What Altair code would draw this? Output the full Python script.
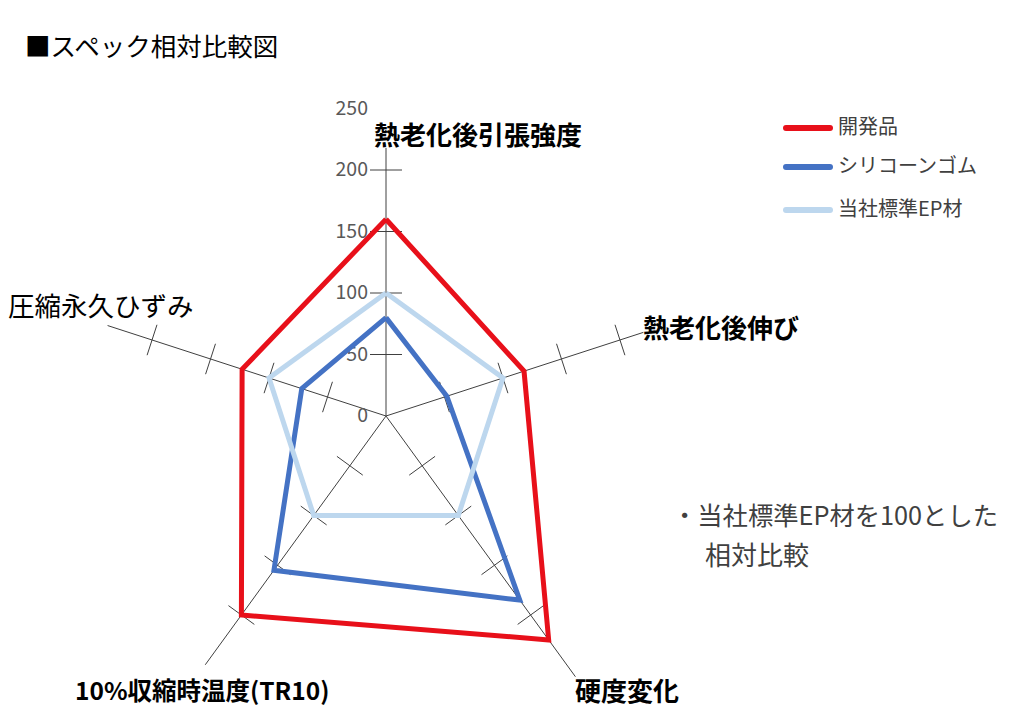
import altair as alt
import pandas as pd

# ---------------- data ----------------
categories = ["熱老化後引張強度", "熱老化後伸び", "硬度変化", "10%収縮時温度(TR10)", "圧縮永久ひずみ"]
series_names = ["開発品", "シリコーンゴム", "当社標準EP材"]
dev_values = [160, 118, 225, 200, 123]
sil_values = [80, 52, 185, 155, 72]
std_values = [100, 100, 100, 100, 100]
tick_values = [0, 50, 100, 150, 200, 250]
cross_values = [50, 100, 150, 200]
colors = ["#E8101A", "#4472C4", "#BDD7EE"]

title_text = "■スペック相対比較図"
note_line1 = "・当社標準EP材を100とした"
note_line2 = "相対比較"

# ---------------- layout constants ----------------
W, H = 998, 703
K = 1.23            # px per unit
CX, CY = 378, 408   # centre of radar in plot coordinates
XMIN, XMAX = -CX / K, (W - CX) / K
YMIN, YMAX = -(H - CY) / K, CY / K
spoke_len = [218, 220, 262, 250, 238]
HALF = 13           # half length of cross ticks (units)
FONT = "Noto Sans CJK JP"

N = len(categories)
ANG = "PI/2 - datum.idx*2*PI/%d" % N

xs = alt.Scale(domain=[XMIN, XMAX], nice=False, zero=False)
ys = alt.Scale(domain=[YMIN, YMAX], nice=False, zero=False)

# polygons (closed)
rows = []
for s, vals in zip(series_names, [dev_values, sil_values, std_values]):
    for i in range(N + 1):
        rows.append({"series": s, "idx": i, "value": vals[i % N]})
poly_df = pd.DataFrame(rows)

spoke_df = pd.DataFrame({"idx": list(range(N)), "len": spoke_len})
cross_df = pd.DataFrame([{"idx": i, "r": r} for i in range(N) for r in cross_values])
tick_df = pd.DataFrame({"v": tick_values})

spokes = alt.Chart(spoke_df).transform_calculate(
    a=ANG
).transform_calculate(
    x0="0", y0="0",
    xe="datum.len*cos(datum.a)", ye="datum.len*sin(datum.a)"
).mark_rule(color="#404040", strokeWidth=1).encode(
    x=alt.X("x0:Q", scale=xs, axis=None),
    y=alt.Y("y0:Q", scale=ys, axis=None),
    x2="xe:Q", y2="ye:Q"
)

crosses = alt.Chart(cross_df).transform_calculate(
    a=ANG
).transform_calculate(
    x1="datum.r*cos(datum.a) + %d*sin(datum.a)" % HALF,
    y1="datum.r*sin(datum.a) - %d*cos(datum.a)" % HALF,
    x2e="datum.r*cos(datum.a) - %d*sin(datum.a)" % HALF,
    y2e="datum.r*sin(datum.a) + %d*cos(datum.a)" % HALF,
).mark_rule(color="#404040", strokeWidth=1).encode(
    x=alt.X("x1:Q", scale=xs, axis=None),
    y=alt.Y("y1:Q", scale=ys, axis=None),
    x2="x2e:Q", y2="y2e:Q"
)

tick_labels = alt.Chart(tick_df).transform_calculate(
    x0="0"
).mark_text(align="right", baseline="middle", dx=-18, fontSize=19.5,
            font=FONT, color="#595959").encode(
    x=alt.X("x0:Q", scale=xs, axis=None),
    y=alt.Y("v:Q", scale=ys, axis=None),
    text="v:Q"
)

lines = alt.Chart(poly_df).transform_calculate(
    a=ANG
).transform_calculate(
    px="datum.value*cos(datum.a)", py="datum.value*sin(datum.a)"
).mark_line(strokeWidth=5, strokeJoin="miter").encode(
    x=alt.X("px:Q", scale=xs, axis=None),
    y=alt.Y("py:Q", scale=ys, axis=None),
    color=alt.Color("series:N", scale=alt.Scale(domain=series_names, range=colors), legend=None),
    order="idx:Q"
)


def label(text, x, y, size=26, weight="bold", color="#000000", align="left"):
    return alt.Chart(pd.DataFrame({"t": [text]})).mark_text(
        align=align, baseline="middle", fontSize=size, fontWeight=weight,
        font=FONT, color=color
    ).encode(x=alt.value(x), y=alt.value(y), text="t:N")


cat_pos = [(366, 129), (635, 322), (567, 685), (67, 685), (0, 300)]
cat_weight = ["bold", "bold", "bold", "bold", "normal"]
cat_size = [26, 26, 26, 24.5, 26.5]
cat_layers = [label(c, p[0], p[1], size=z, weight=w)
              for c, p, w, z in zip(categories, cat_pos, cat_weight, cat_size)]

legend_y = [120, 159, 202]
legend_layers = []
for s, c, ly in zip(series_names, colors, legend_y):
    legend_layers.append(
        alt.Chart(pd.DataFrame({"s": [s]})).mark_rule(color=c, strokeWidth=6, strokeCap="round").encode(
            x=alt.value(778), x2=alt.value(822), y=alt.value(ly)
        )
    )
    legend_layers.append(label(s, 830, ly, size=20, weight="normal", color="#404040"))

title = label(title_text, 17, 40, size=25.5, weight="normal", color="#000000")
note1 = label(note_line1, 664, 509, size=25.3, weight="normal", color="#404040")
note2 = label(note_line2, 697, 549, size=26, weight="normal", color="#404040")

chart = alt.layer(
    spokes, crosses, tick_labels, lines, *cat_layers, *legend_layers, title, note1, note2
).properties(
    width=W, height=H, padding=0,
    autosize=alt.AutoSizeParams(type="none"),
    background="#ffffff"
).configure_view(stroke=None)

chart.save("out.html", embed_options={"renderer": "svg", "actions": False})
